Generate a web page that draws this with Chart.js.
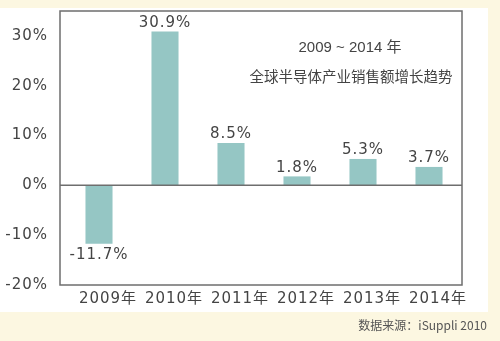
<!DOCTYPE html>
<html lang="zh">
<head>
    <meta charset="UTF-8">
    <title>全球半导体产业销售额增长趋势</title>
    <script src="https://cdn.jsdelivr.net/npm/chart.js"></script>
    <style>
        html, body {
            margin: 0;
            padding: 0;
            background: #fcf7e1;
        }
        #wrap {
            width: 500px;
            height: 341px;
        }
    </style>
</head>
<body>

<div id="wrap">
    <canvas id="growthChart" width="500" height="341"></canvas>
</div>

<script>
    const years = ['2009年', '2010年', '2011年', '2012年', '2013年', '2014年'];
    const growth = [-11.7, 30.9, 8.5, 1.8, 5.3, 3.7];
    const yTicks = [-20, -10, 0, 10, 20, 30];
    const titleLines = ['2009 ~ 2014 年', '全球半导体产业销售额增长趋势'];
    const sourceText = '数据来源：iSuppli 2010';

    const textColor = '#444';
    const lineColor = '#6e6e6e';

    // white panel on cream, frame around the plot, value labels, captions
    const decorations = {
        id: 'decorations',
        beforeLayout(chart) {
            // axis labels are set a little loose
            chart.ctx.letterSpacing = '1px';
        },
        beforeDraw(chart) {
            const c = chart.ctx;
            c.save();
            c.fillStyle = '#fcf7e1';
            c.fillRect(0, 0, chart.width, chart.height);
            c.fillStyle = '#ffffff';
            c.fillRect(0, 8, 488, 304);
            c.restore();
            c.letterSpacing = '1px';
        },
        afterDatasetsDraw(chart) {
            const c = chart.ctx;
            const area = chart.chartArea;
            const y = chart.scales.y;
            c.save();

            // zero line and frame
            c.strokeStyle = lineColor;
            c.lineWidth = 1.5;
            c.beginPath();
            c.moveTo(60, y.getPixelForValue(0));
            c.lineTo(area.right, y.getPixelForValue(0));
            c.stroke();
            c.strokeRect(60, area.top, area.right - 60, area.bottom - area.top);

            // value labels
            c.fillStyle = textColor;
            c.font = '15px "DejaVu Sans", Verdana, sans-serif';
            c.letterSpacing = '1px';
            c.textAlign = 'center';
            const meta = chart.getDatasetMeta(0);
            meta.data.forEach((bar, i) => {
                const v = growth[i];
                const label = v.toFixed(1) + '%';
                if (v >= 0) {
                    c.textBaseline = 'bottom';
                    c.fillText(label, bar.x, bar.y - 1);
                } else {
                    c.textBaseline = 'top';
                    c.fillText(label, bar.x, bar.y + 4);
                }
            });
            c.letterSpacing = '0px';

            // title inside the plot
            c.textBaseline = 'middle';
            c.font = '15px "Liberation Sans", Arial, "Noto Sans CJK SC", sans-serif';
            c.fillText(titleLines[0], 350, 48);
            c.font = '14.5px "Noto Sans CJK SC", sans-serif';
            c.fillText(titleLines[1], 351, 76);

            // source note
            c.fillStyle = '#555';
            c.textAlign = 'right';
            c.font = '12px "Noto Sans CJK SC", serif';
            c.fillText(sourceText, 487, 325);
            c.restore();
        }
    };

    const ctx = document.getElementById('growthChart').getContext('2d');
    const growthChart = new Chart(ctx, {
        type: 'bar',
        data: {
            labels: years,
            datasets: [{
                data: growth,
                backgroundColor: '#95c6c4',
                borderWidth: 0,
                barPercentage: 0.41,
                categoryPercentage: 1
            }]
        },
        options: {
            responsive: false,
            animation: false,
            layout: {
                padding: { top: 11, right: 38, left: 0, bottom: 0 }
            },
            plugins: {
                legend: { display: false },
                tooltip: { enabled: false }
            },
            scales: {
                y: {
                    min: -20,
                    max: 35,
                    afterFit(scale) {
                        scale.width = 66;
                        scale.paddingTop = 0;
                        scale.paddingBottom = 0;
                    },
                    afterBuildTicks(scale) {
                        scale.ticks = yTicks.map(v => ({ value: v }));
                    },
                    grid: { display: false, drawTicks: false },
                    border: { display: false },
                    ticks: {
                        padding: 18,
                        color: textColor,
                        font: { family: '"DejaVu Sans", Verdana, sans-serif', size: 15 },
                        callback: v => v + '%'
                    }
                },
                x: {
                    afterFit(scale) {
                        scale.height = 56;
                        scale.paddingLeft = 0;
                        scale.paddingRight = 0;
                    },
                    grid: { display: false, drawTicks: false },
                    border: { display: false },
                    ticks: {
                        padding: 5,
                        labelOffset: 9,
                        color: textColor,
                        font: { family: '"DejaVu Sans", Verdana, "Noto Sans CJK SC", sans-serif', size: 15 }
                    }
                }
            }
        },
        plugins: [decorations]
    });
</script>

</body>
</html>
